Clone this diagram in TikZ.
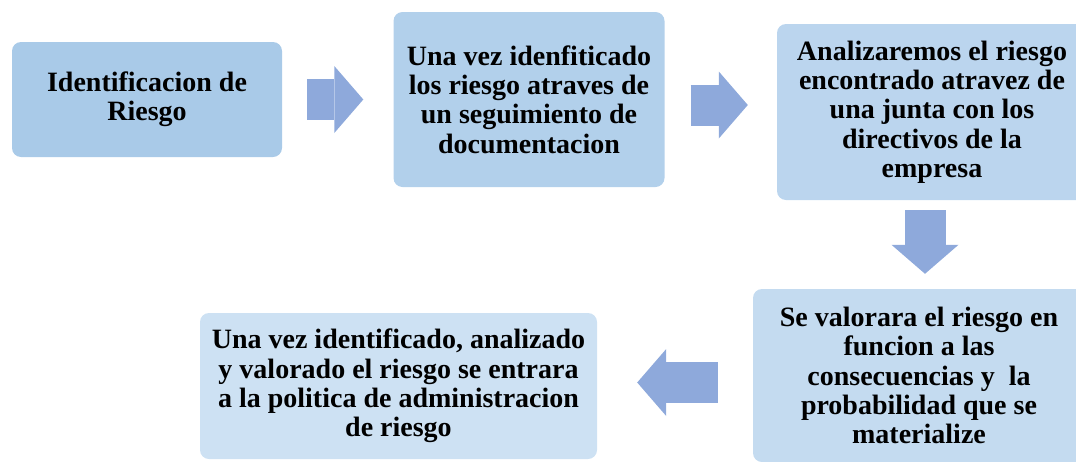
\documentclass[tikz,border=0pt]{standalone}
\usepackage{fontspec}
\setmainfont{Liberation Serif}
\usetikzlibrary{arrows.meta}

\definecolor{boxA}{HTML}{A9CAE8}
\definecolor{boxB}{HTML}{B2D0EB}
\definecolor{boxC}{HTML}{BBD5EE}
\definecolor{boxD}{HTML}{C4DBF0}
\definecolor{boxE}{HTML}{CDE1F3}
\definecolor{flecha}{HTML}{8EA9DB}

\begin{document}
\begin{tikzpicture}[x=1pt,y=-1pt,main node/.style={rectangle,rounded corners=9pt,inner sep=0pt,align=center,font=\fontsize{28}{29.3}\selectfont\bfseries},flow/.style={draw=flecha,line width=41pt,-{Triangle[length=29pt,width=67pt,line width=0pt]}}]
				
				\clip (0,0) rectangle (1076,461);
				
				\node[main node,fill=boxA,minimum width=270pt,minimum height=115pt] (s1) at (147,99.5) {Identificacion de\\Riesgo};
				\node[main node,fill=boxB,minimum width=271pt,minimum height=175pt] (s2) at (529,99.5) {Una vez idenfiticado\\los riesgo atraves de\\un seguimiento de\\documentacion};
				\node[main node,fill=boxC,minimum width=310pt,minimum height=176pt] (s3) at (932,112) {Analizaremos el riesgo\\encontrado atravez de\\una junta con los\\directivos de la\\empresa};
				\node[main node,fill=boxD,minimum width=332pt,minimum height=173pt] (s4) at (919,375.5) {Se valorara el riesgo en\\funcion a las\\consecuencias y~ la\\probabilidad que se\\materialize};
				\node[main node,fill=boxE,minimum width=397pt,minimum height=146pt] (s5) at (398.5,386) {Una vez identificado, analizado\\y valorado el riesgo se entrara\\a la politica de administracion\\de riesgo};
				
				\draw[flow,shorten <=25pt,shorten >=30pt] (s1.east) -- (s1.east -| s2.west);
				\draw[flow,shorten <=26pt,shorten >=29pt] (s2.east |- 0,105) -- (s3.west |- 0,105);
				\draw[flow,shorten <=10pt,shorten >=15pt] (s3.south -| 925,0) -- (s4.north -| 925,0);
				\draw[flow,shorten <=35pt,shorten >=40pt] (s4.west |- 0,382.5) -- (s5.east |- 0,382.5);
				
				\end{tikzpicture}
\end{document}
